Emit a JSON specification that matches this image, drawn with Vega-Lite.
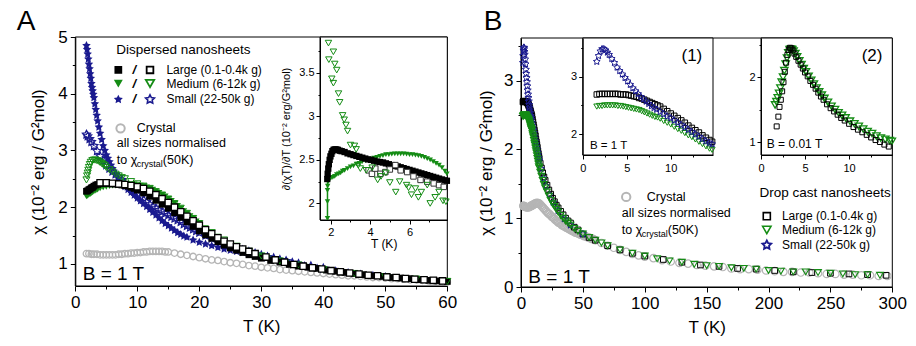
{
"$schema":"https://vega.github.io/schema/vega-lite/v6.json",
"width":916,"height":346,"autosize":{"type":"none"},"padding":0,"background":"white",
"config":{"view":{"stroke":null},"axis":{"grid":false,"domainColor":"black","tickColor":"black","labelColor":"black","titleColor":"black","labelFont":"Liberation Sans","titleFont":"Liberation Sans","titleFontWeight":"normal","labelOverlap":false,"labelFlush":false,"domainWidth":1,"tickWidth":1},"text":{"font":"Liberation Sans","color":"black"}},
"datasets":{
"AL":[{"x":1.8,"y":2.28},{"x":2,"y":2.29},{"x":2.2,"y":2.31},{"x":2.4,"y":2.32},{"x":2.6,"y":2.34},{"x":2.8,"y":2.35},{"x":3,"y":2.37},{"x":3.3,"y":2.39},{"x":3.6,"y":2.4},{"x":4,"y":2.42},{"x":4.5,"y":2.42},{"x":5,"y":2.42},{"x":5.5,"y":2.42},{"x":6,"y":2.41},{"x":6.5,"y":2.41},{"x":7,"y":2.4},{"x":7.5,"y":2.39},{"x":8,"y":2.38},{"x":8.5,"y":2.37},{"x":9,"y":2.35},{"x":9.5,"y":2.33},{"x":10,"y":2.3},{"x":11,"y":2.25},{"x":12,"y":2.19},{"x":13,"y":2.12},{"x":14,"y":2.05},{"x":15,"y":1.98},{"x":16,"y":1.9},{"x":17,"y":1.82},{"x":18,"y":1.74},{"x":19,"y":1.66},{"x":20,"y":1.58},{"x":21,"y":1.51},{"x":22,"y":1.45},{"x":23,"y":1.39},{"x":24,"y":1.33},{"x":25,"y":1.28},{"x":26,"y":1.24},{"x":27,"y":1.2},{"x":28,"y":1.16},{"x":29,"y":1.13},{"x":30,"y":1.1},{"x":31.5,"y":1.06},{"x":33,"y":1.03},{"x":34.5,"y":0.99},{"x":36,"y":0.96},{"x":37.5,"y":0.94},{"x":39,"y":0.92},{"x":40.5,"y":0.89},{"x":42,"y":0.87},{"x":43.5,"y":0.85},{"x":45,"y":0.83},{"x":46.5,"y":0.81},{"x":48,"y":0.79},{"x":49.5,"y":0.78},{"x":51,"y":0.76},{"x":52.5,"y":0.75},{"x":54,"y":0.74},{"x":55.5,"y":0.72},{"x":57,"y":0.71},{"x":58.5,"y":0.7},{"x":60,"y":0.69}],
"ALo":[{"x":4,"y":2.43},{"x":5,"y":2.43},{"x":6,"y":2.42},{"x":7,"y":2.41},{"x":8,"y":2.4},{"x":9,"y":2.38},{"x":10,"y":2.36},{"x":11,"y":2.33},{"x":12,"y":2.28},{"x":13,"y":2.22},{"x":14,"y":2.15},{"x":15,"y":2.08},{"x":16,"y":2.0},{"x":17,"y":1.92},{"x":18,"y":1.84},{"x":19,"y":1.76},{"x":20,"y":1.68},{"x":21,"y":1.6},{"x":22,"y":1.53},{"x":23,"y":1.46},{"x":24,"y":1.4},{"x":25,"y":1.35},{"x":26,"y":1.3},{"x":27,"y":1.26},{"x":28,"y":1.22},{"x":29,"y":1.18},{"x":30.75,"y":1.12},{"x":32.25,"y":1.07},{"x":33.75,"y":1.03},{"x":35.25,"y":0.99},{"x":36.75,"y":0.96},{"x":38.25,"y":0.93},{"x":39.75,"y":0.91},{"x":41.25,"y":0.88},{"x":42.75,"y":0.86},{"x":44.25,"y":0.84},{"x":45.75,"y":0.82},{"x":47.25,"y":0.8},{"x":48.75,"y":0.79},{"x":50.25,"y":0.77},{"x":51.75,"y":0.76},{"x":53.25,"y":0.74},{"x":54.75,"y":0.73},{"x":56.25,"y":0.72},{"x":57.75,"y":0.71},{"x":59.25,"y":0.7}],
"AMf":[{"x":1.8,"y":2.19},{"x":2,"y":2.2},{"x":2.2,"y":2.22},{"x":2.4,"y":2.23},{"x":2.6,"y":2.25},{"x":2.8,"y":2.26},{"x":3,"y":2.28},{"x":3.3,"y":2.29},{"x":3.6,"y":2.31},{"x":4,"y":2.33},{"x":4.5,"y":2.35},{"x":5,"y":2.36},{"x":5.5,"y":2.37},{"x":6,"y":2.38},{"x":6.5,"y":2.38},{"x":7,"y":2.39},{"x":7.5,"y":2.39},{"x":8,"y":2.4},{"x":8.5,"y":2.4},{"x":9,"y":2.4},{"x":9.5,"y":2.4},{"x":10,"y":2.39},{"x":10.5,"y":2.38},{"x":11,"y":2.37},{"x":11.5,"y":2.35},{"x":12,"y":2.33},{"x":12.5,"y":2.31},{"x":13,"y":2.28},{"x":13.5,"y":2.25},{"x":14,"y":2.22},{"x":14.5,"y":2.19},{"x":15,"y":2.15},{"x":15.5,"y":2.11},{"x":16,"y":2.07},{"x":16.5,"y":2.02},{"x":17,"y":1.98},{"x":17.5,"y":1.93},{"x":18,"y":1.89},{"x":18.5,"y":1.84},{"x":19,"y":1.8},{"x":19.5,"y":1.75},{"x":20,"y":1.71},{"x":21,"y":1.63},{"x":22,"y":1.55},{"x":23,"y":1.48},{"x":24,"y":1.41},{"x":25,"y":1.35},{"x":26,"y":1.3},{"x":27,"y":1.25},{"x":28,"y":1.21},{"x":29,"y":1.17},{"x":30,"y":1.13},{"x":31,"y":1.1},{"x":32,"y":1.07},{"x":33,"y":1.05},{"x":34,"y":1.02},{"x":35,"y":1.0},{"x":36,"y":0.97},{"x":37,"y":0.95},{"x":38,"y":0.93},{"x":39,"y":0.92},{"x":40,"y":0.9},{"x":41,"y":0.88},{"x":42,"y":0.87},{"x":43,"y":0.85},{"x":44,"y":0.84},{"x":45,"y":0.83},{"x":46,"y":0.81},{"x":47,"y":0.8},{"x":48,"y":0.79},{"x":49,"y":0.78},{"x":50,"y":0.77},{"x":51,"y":0.76},{"x":52,"y":0.75},{"x":53,"y":0.74},{"x":54,"y":0.73},{"x":55,"y":0.73},{"x":56,"y":0.72},{"x":57,"y":0.71},{"x":58,"y":0.7},{"x":59,"y":0.7},{"x":60,"y":0.69}],
"AMo":[{"x":1.8,"y":2.48},{"x":1.9,"y":2.55},{"x":2,"y":2.6},{"x":2.1,"y":2.65},{"x":2.2,"y":2.7},{"x":2.35,"y":2.75},{"x":2.5,"y":2.79},{"x":2.75,"y":2.82},{"x":3,"y":2.83},{"x":3.25,"y":2.83},{"x":3.5,"y":2.82},{"x":3.75,"y":2.81},{"x":4,"y":2.79},{"x":4.25,"y":2.77},{"x":4.5,"y":2.75},{"x":4.75,"y":2.73},{"x":5,"y":2.7},{"x":5.5,"y":2.66},{"x":6,"y":2.62},{"x":6.5,"y":2.58},{"x":7,"y":2.55},{"x":7.5,"y":2.52},{"x":8,"y":2.5},{"x":9,"y":2.45},{"x":10,"y":2.41},{"x":11,"y":2.37},{"x":12,"y":2.33},{"x":13,"y":2.27},{"x":14,"y":2.21},{"x":15,"y":2.14},{"x":16,"y":2.06},{"x":17,"y":1.98},{"x":18,"y":1.89},{"x":19,"y":1.8},{"x":20,"y":1.71},{"x":22,"y":1.55},{"x":24,"y":1.42},{"x":26,"y":1.31},{"x":28,"y":1.22},{"x":30,"y":1.14},{"x":33,"y":1.05},{"x":36,"y":0.98},{"x":40,"y":0.9},{"x":45,"y":0.83},{"x":50,"y":0.77},{"x":55,"y":0.73},{"x":60,"y":0.69}],
"ASf":[{"x":1.8,"y":4.85},{"x":1.9,"y":4.78},{"x":2,"y":4.7},{"x":2.1,"y":4.61},{"x":2.2,"y":4.52},{"x":2.3,"y":4.44},{"x":2.4,"y":4.35},{"x":2.5,"y":4.27},{"x":2.6,"y":4.18},{"x":2.7,"y":4.11},{"x":2.8,"y":4.05},{"x":2.9,"y":3.99},{"x":3,"y":3.93},{"x":3.15,"y":3.82},{"x":3.3,"y":3.72},{"x":3.45,"y":3.62},{"x":3.6,"y":3.52},{"x":3.8,"y":3.41},{"x":4,"y":3.3},{"x":4.25,"y":3.19},{"x":4.5,"y":3.08},{"x":4.75,"y":3.0},{"x":5,"y":2.92},{"x":5.25,"y":2.86},{"x":5.5,"y":2.8},{"x":5.75,"y":2.74},{"x":6,"y":2.68},{"x":6.5,"y":2.58},{"x":7,"y":2.5},{"x":7.5,"y":2.42},{"x":8,"y":2.36},{"x":8.5,"y":2.31},{"x":9,"y":2.26},{"x":9.5,"y":2.21},{"x":10,"y":2.16},{"x":10.5,"y":2.11},{"x":11,"y":2.06},{"x":11.5,"y":2.01},{"x":12,"y":1.96},{"x":12.5,"y":1.91},{"x":13,"y":1.86},{"x":13.5,"y":1.81},{"x":14,"y":1.76},{"x":14.5,"y":1.71},{"x":15,"y":1.67},{"x":15.5,"y":1.63},{"x":16,"y":1.59},{"x":16.5,"y":1.55},{"x":17,"y":1.52},{"x":17.5,"y":1.49},{"x":18,"y":1.47},{"x":19,"y":1.42},{"x":20,"y":1.38},{"x":21,"y":1.35},{"x":22,"y":1.32},{"x":23,"y":1.29},{"x":24,"y":1.26},{"x":25,"y":1.24},{"x":26,"y":1.22},{"x":27,"y":1.2},{"x":28,"y":1.18},{"x":29,"y":1.16},{"x":30,"y":1.13},{"x":31,"y":1.11},{"x":32,"y":1.08},{"x":33,"y":1.06},{"x":34,"y":1.03},{"x":35,"y":1.01},{"x":36,"y":0.99},{"x":37,"y":0.97},{"x":38,"y":0.95},{"x":39,"y":0.93},{"x":40,"y":0.91},{"x":42,"y":0.88},{"x":44,"y":0.85},{"x":46,"y":0.82},{"x":48,"y":0.8},{"x":50,"y":0.78}],
"ASo":[{"x":1.8,"y":3.28},{"x":2,"y":3.25},{"x":2.3,"y":3.2},{"x":2.6,"y":3.15},{"x":3,"y":3.08},{"x":3.5,"y":2.99},{"x":4,"y":2.9},{"x":4.5,"y":2.82},{"x":5,"y":2.74},{"x":5.5,"y":2.68},{"x":6,"y":2.63},{"x":6.5,"y":2.58},{"x":7,"y":2.53},{"x":7.5,"y":2.48},{"x":8,"y":2.42},{"x":8.5,"y":2.37},{"x":9,"y":2.32},{"x":9.5,"y":2.27},{"x":10,"y":2.22},{"x":10.5,"y":2.17},{"x":11,"y":2.13},{"x":11.5,"y":2.09},{"x":12,"y":2.05},{"x":12.5,"y":2.01},{"x":13,"y":1.98},{"x":13.5,"y":1.95},{"x":14,"y":1.92},{"x":14.5,"y":1.89},{"x":15,"y":1.86},{"x":15.5,"y":1.83},{"x":16,"y":1.8},{"x":16.5,"y":1.77},{"x":17,"y":1.74},{"x":17.5,"y":1.7},{"x":18,"y":1.67},{"x":18.5,"y":1.64},{"x":19,"y":1.61},{"x":19.5,"y":1.58},{"x":20,"y":1.55},{"x":21,"y":1.5},{"x":22,"y":1.45},{"x":23,"y":1.4},{"x":24,"y":1.35},{"x":25,"y":1.31},{"x":26,"y":1.27},{"x":27,"y":1.24},{"x":28,"y":1.21},{"x":29,"y":1.18},{"x":30,"y":1.15},{"x":31,"y":1.12},{"x":32,"y":1.1},{"x":33,"y":1.07},{"x":34,"y":1.05},{"x":35,"y":1.02},{"x":36,"y":1.0},{"x":38,"y":0.96},{"x":40,"y":0.92}],
"CR":[{"x":1.8,"y":1.18},{"x":2.2,"y":1.18},{"x":2.6,"y":1.17},{"x":3,"y":1.17},{"x":3.5,"y":1.17},{"x":4,"y":1.16},{"x":4.5,"y":1.16},{"x":5,"y":1.16},{"x":5.5,"y":1.16},{"x":6,"y":1.16},{"x":6.5,"y":1.16},{"x":7,"y":1.17},{"x":7.5,"y":1.17},{"x":8,"y":1.18},{"x":8.5,"y":1.18},{"x":9,"y":1.19},{"x":9.5,"y":1.19},{"x":10,"y":1.2},{"x":10.5,"y":1.2},{"x":11,"y":1.21},{"x":11.5,"y":1.21},{"x":12,"y":1.22},{"x":12.5,"y":1.22},{"x":13,"y":1.22},{"x":13.5,"y":1.22},{"x":14,"y":1.22},{"x":14.5,"y":1.21},{"x":15,"y":1.21},{"x":16,"y":1.19},{"x":17,"y":1.17},{"x":18,"y":1.15},{"x":19,"y":1.13},{"x":20,"y":1.11},{"x":21,"y":1.09},{"x":22,"y":1.07},{"x":23,"y":1.06},{"x":24,"y":1.04},{"x":25,"y":1.02},{"x":26,"y":1.01},{"x":27,"y":0.99},{"x":28,"y":0.97},{"x":29,"y":0.96},{"x":30,"y":0.94},{"x":31,"y":0.93},{"x":32,"y":0.92},{"x":33,"y":0.9},{"x":34,"y":0.89},{"x":35,"y":0.88},{"x":36,"y":0.87},{"x":37,"y":0.86},{"x":38,"y":0.85},{"x":39,"y":0.84},{"x":40,"y":0.83},{"x":41,"y":0.82},{"x":42,"y":0.81},{"x":43,"y":0.8},{"x":44,"y":0.79},{"x":45,"y":0.79},{"x":46,"y":0.78},{"x":47,"y":0.77},{"x":48,"y":0.76},{"x":49,"y":0.76},{"x":50,"y":0.75},{"x":51,"y":0.74},{"x":52,"y":0.74},{"x":53,"y":0.73},{"x":54,"y":0.72},{"x":55,"y":0.72},{"x":56,"y":0.71},{"x":57,"y":0.7},{"x":58,"y":0.7},{"x":59,"y":0.69},{"x":60,"y":0.68},{"x":65,"y":0.64},{"x":70,"y":0.6},{"x":75,"y":0.57},{"x":80,"y":0.54},{"x":85,"y":0.51},{"x":90,"y":0.48},{"x":95,"y":0.46},{"x":100,"y":0.44},{"x":107,"y":0.42},{"x":114,"y":0.39},{"x":121,"y":0.37},{"x":128,"y":0.35},{"x":135,"y":0.34},{"x":142,"y":0.32},{"x":149,"y":0.31},{"x":156,"y":0.3},{"x":163,"y":0.29},{"x":170,"y":0.27},{"x":177,"y":0.26},{"x":184,"y":0.26},{"x":191,"y":0.25},{"x":198,"y":0.24},{"x":205,"y":0.23},{"x":212,"y":0.22},{"x":219,"y":0.22},{"x":226,"y":0.21},{"x":233,"y":0.21},{"x":240,"y":0.2},{"x":247,"y":0.19},{"x":254,"y":0.19},{"x":261,"y":0.18},{"x":268,"y":0.18},{"x":275,"y":0.17},{"x":282,"y":0.17},{"x":289,"y":0.16},{"x":296,"y":0.16}],
"IAL":[{"x":1.82,"y":2.28},{"x":1.84,"y":2.34},{"x":1.87,"y":2.4},{"x":1.9,"y":2.45},{"x":1.94,"y":2.5},{"x":1.98,"y":2.54},{"x":2.03,"y":2.57},{"x":2.08,"y":2.6},{"x":2.14,"y":2.615},{"x":2.2,"y":2.62},{"x":2.28,"y":2.62},{"x":2.36,"y":2.615},{"x":2.45,"y":2.605},{"x":2.55,"y":2.6},{"x":2.7,"y":2.59},{"x":2.85,"y":2.575},{"x":3,"y":2.565},{"x":3.15,"y":2.555},{"x":3.3,"y":2.545},{"x":3.45,"y":2.535},{"x":3.6,"y":2.525},{"x":3.75,"y":2.515},{"x":3.9,"y":2.505},{"x":4.05,"y":2.5},{"x":4.2,"y":2.49},{"x":4.35,"y":2.48},{"x":4.5,"y":2.475},{"x":4.65,"y":2.47},{"x":4.8,"y":2.46},{"x":4.95,"y":2.45},{"x":5.1,"y":2.44},{"x":5.25,"y":2.43},{"x":5.4,"y":2.425},{"x":5.55,"y":2.415},{"x":5.7,"y":2.405},{"x":5.85,"y":2.395},{"x":6,"y":2.385},{"x":6.15,"y":2.375},{"x":6.3,"y":2.365},{"x":6.45,"y":2.355},{"x":6.6,"y":2.345},{"x":6.75,"y":2.335},{"x":6.9,"y":2.325},{"x":7.05,"y":2.315},{"x":7.2,"y":2.305},{"x":7.35,"y":2.295},{"x":7.5,"y":2.285},{"x":7.65,"y":2.275},{"x":7.8,"y":2.265},{"x":7.9,"y":2.26}],
"IALo":[{"x":3.92,"y":2.38},{"x":4.09,"y":2.34},{"x":4.26,"y":2.4},{"x":4.52,"y":2.34},{"x":4.77,"y":2.36},{"x":5.0,"y":2.39},{"x":5.28,"y":2.44},{"x":5.55,"y":2.38},{"x":5.88,"y":2.36},{"x":6.2,"y":2.31},{"x":6.56,"y":2.27},{"x":6.9,"y":2.25},{"x":7.23,"y":2.23},{"x":7.5,"y":2.21},{"x":7.74,"y":2.19}],
"IAMf":[{"x":1.83,"y":1.83},{"x":1.83,"y":2.02},{"x":1.83,"y":2.15},{"x":1.84,"y":2.2},{"x":1.87,"y":2.25},{"x":1.92,"y":2.28},{"x":2,"y":2.29},{"x":2.1,"y":2.3},{"x":2.2,"y":2.31},{"x":2.3,"y":2.33},{"x":2.4,"y":2.34},{"x":2.5,"y":2.35},{"x":2.6,"y":2.37},{"x":2.7,"y":2.38},{"x":2.85,"y":2.4},{"x":3,"y":2.42},{"x":3.15,"y":2.43},{"x":3.3,"y":2.45},{"x":3.45,"y":2.46},{"x":3.6,"y":2.48},{"x":3.75,"y":2.49},{"x":3.9,"y":2.5},{"x":4.05,"y":2.51},{"x":4.2,"y":2.52},{"x":4.35,"y":2.53},{"x":4.5,"y":2.54},{"x":4.65,"y":2.55},{"x":4.8,"y":2.56},{"x":4.95,"y":2.56},{"x":5.1,"y":2.565},{"x":5.25,"y":2.57},{"x":5.4,"y":2.57},{"x":5.55,"y":2.57},{"x":5.7,"y":2.57},{"x":5.85,"y":2.565},{"x":6,"y":2.56},{"x":6.15,"y":2.56},{"x":6.3,"y":2.555},{"x":6.45,"y":2.55},{"x":6.6,"y":2.54},{"x":6.75,"y":2.53},{"x":6.9,"y":2.515},{"x":7.05,"y":2.5},{"x":7.2,"y":2.48},{"x":7.35,"y":2.46},{"x":7.5,"y":2.44},{"x":7.65,"y":2.41},{"x":7.8,"y":2.37},{"x":7.9,"y":2.34}],
"IAMo":[{"x":1.88,"y":3.84},{"x":2.13,"y":3.74},{"x":1.9,"y":3.65},{"x":2.2,"y":3.6},{"x":2.3,"y":3.53},{"x":2.05,"y":3.43},{"x":2.13,"y":3.38},{"x":2.39,"y":3.26},{"x":2.45,"y":3.16},{"x":2.6,"y":3.01},{"x":2.68,"y":2.96},{"x":2.77,"y":2.9},{"x":2.85,"y":2.83},{"x":3.0,"y":2.67},{"x":3.2,"y":2.66},{"x":3.29,"y":2.62},{"x":3.4,"y":2.44},{"x":3.5,"y":2.4},{"x":3.8,"y":2.38},{"x":4.1,"y":2.41},{"x":4.38,"y":2.27},{"x":4.55,"y":2.31},{"x":4.8,"y":2.35},{"x":5.0,"y":2.24},{"x":5.3,"y":2.13},{"x":5.5,"y":2.25},{"x":5.85,"y":2.21},{"x":5.95,"y":2.18},{"x":6.1,"y":2.1},{"x":6.3,"y":2.17},{"x":6.45,"y":2.07},{"x":6.6,"y":2.13},{"x":6.9,"y":2.21},{"x":7.05,"y":2.0},{"x":7.3,"y":2.07},{"x":7.5,"y":2.13},{"x":7.7,"y":2.03},{"x":7.85,"y":2.02}],
"BL":[{"x":1.6,"y":2.69},{"x":1.9,"y":2.7},{"x":2.2,"y":2.7},{"x":2.5,"y":2.7},{"x":2.8,"y":2.7},{"x":3.1,"y":2.7},{"x":3.4,"y":2.7},{"x":3.7,"y":2.7},{"x":4,"y":2.7},{"x":4.3,"y":2.69},{"x":4.6,"y":2.69},{"x":4.9,"y":2.69},{"x":5.2,"y":2.68},{"x":5.5,"y":2.67},{"x":5.8,"y":2.66},{"x":6.1,"y":2.65},{"x":6.4,"y":2.63},{"x":6.7,"y":2.62},{"x":7,"y":2.6},{"x":7.3,"y":2.58},{"x":7.6,"y":2.56},{"x":7.9,"y":2.54},{"x":8.2,"y":2.52},{"x":8.5,"y":2.5},{"x":8.8,"y":2.48},{"x":9.2,"y":2.44},{"x":9.6,"y":2.4},{"x":10,"y":2.36},{"x":10.4,"y":2.32},{"x":10.8,"y":2.28},{"x":11.2,"y":2.24},{"x":11.6,"y":2.2},{"x":12,"y":2.15},{"x":12.4,"y":2.11},{"x":12.8,"y":2.07},{"x":13.2,"y":2.03},{"x":13.6,"y":1.98},{"x":14,"y":1.94},{"x":14.4,"y":1.9},{"x":14.7,"y":1.87},{"x":15.5,"y":1.8},{"x":16.5,"y":1.73},{"x":17.5,"y":1.66},{"x":18.5,"y":1.6},{"x":19.5,"y":1.55},{"x":21,"y":1.48},{"x":22.5,"y":1.41},{"x":24,"y":1.35},{"x":25.5,"y":1.29},{"x":27,"y":1.24},{"x":28.5,"y":1.19},{"x":30,"y":1.15},{"x":32,"y":1.1},{"x":34,"y":1.05},{"x":36,"y":1.0},{"x":38,"y":0.96},{"x":40,"y":0.93},{"x":43,"y":0.87},{"x":46,"y":0.83},{"x":50,"y":0.77},{"x":55,"y":0.72},{"x":60,"y":0.68},{"x":70,"y":0.6},{"x":80,"y":0.54},{"x":90,"y":0.49},{"x":100,"y":0.45},{"x":115,"y":0.4},{"x":130,"y":0.36},{"x":145,"y":0.32},{"x":160,"y":0.3},{"x":175,"y":0.27},{"x":190,"y":0.26},{"x":205,"y":0.24},{"x":220,"y":0.22},{"x":235,"y":0.21},{"x":250,"y":0.2},{"x":265,"y":0.19},{"x":280,"y":0.18},{"x":295,"y":0.17}],
"BM":[{"x":1.6,"y":2.48},{"x":1.9,"y":2.49},{"x":2.2,"y":2.49},{"x":2.5,"y":2.5},{"x":2.8,"y":2.5},{"x":3.1,"y":2.5},{"x":3.4,"y":2.5},{"x":3.7,"y":2.5},{"x":4,"y":2.49},{"x":4.3,"y":2.49},{"x":4.6,"y":2.48},{"x":4.9,"y":2.47},{"x":5.2,"y":2.46},{"x":5.5,"y":2.45},{"x":5.8,"y":2.44},{"x":6.1,"y":2.43},{"x":6.4,"y":2.42},{"x":6.7,"y":2.4},{"x":7,"y":2.38},{"x":7.3,"y":2.36},{"x":7.6,"y":2.34},{"x":7.9,"y":2.32},{"x":8.2,"y":2.3},{"x":8.5,"y":2.29},{"x":8.8,"y":2.27},{"x":9.2,"y":2.23},{"x":9.6,"y":2.2},{"x":10,"y":2.17},{"x":10.4,"y":2.13},{"x":10.8,"y":2.09},{"x":11.2,"y":2.06},{"x":11.6,"y":2.02},{"x":12,"y":1.98},{"x":12.4,"y":1.95},{"x":12.8,"y":1.91},{"x":13.2,"y":1.87},{"x":13.6,"y":1.83},{"x":14,"y":1.79},{"x":14.4,"y":1.75},{"x":14.7,"y":1.73},{"x":15.5,"y":1.67},{"x":16.5,"y":1.61},{"x":17.5,"y":1.55},{"x":18.5,"y":1.49},{"x":19.5,"y":1.44},{"x":21,"y":1.38},{"x":22.5,"y":1.32},{"x":24,"y":1.26},{"x":25.5,"y":1.21},{"x":27,"y":1.17},{"x":28.5,"y":1.13},{"x":30,"y":1.09},{"x":32,"y":1.04},{"x":34,"y":1.0},{"x":36,"y":0.96},{"x":38,"y":0.93},{"x":40,"y":0.9},{"x":43,"y":0.85},{"x":46,"y":0.81},{"x":50,"y":0.77},{"x":55,"y":0.72},{"x":60,"y":0.68},{"x":65,"y":0.64},{"x":70,"y":0.6},{"x":80,"y":0.54},{"x":90,"y":0.49},{"x":100,"y":0.45},{"x":110,"y":0.41},{"x":120,"y":0.38},{"x":130,"y":0.36},{"x":140,"y":0.33},{"x":150,"y":0.31},{"x":160,"y":0.3},{"x":170,"y":0.28},{"x":180,"y":0.27},{"x":190,"y":0.26},{"x":200,"y":0.24},{"x":210,"y":0.23},{"x":220,"y":0.22},{"x":230,"y":0.22},{"x":240,"y":0.21},{"x":250,"y":0.2},{"x":260,"y":0.19},{"x":270,"y":0.18},{"x":280,"y":0.18},{"x":290,"y":0.17}],
"BS":[{"x":1.6,"y":3.26},{"x":1.8,"y":3.36},{"x":2,"y":3.44},{"x":2.2,"y":3.48},{"x":2.4,"y":3.48},{"x":2.6,"y":3.46},{"x":2.8,"y":3.42},{"x":3,"y":3.38},{"x":3.3,"y":3.31},{"x":3.6,"y":3.24},{"x":3.9,"y":3.16},{"x":4.2,"y":3.1},{"x":4.5,"y":3.04},{"x":4.8,"y":2.98},{"x":5.1,"y":2.92},{"x":5.4,"y":2.86},{"x":5.7,"y":2.8},{"x":6,"y":2.75},{"x":6.3,"y":2.7},{"x":6.6,"y":2.65},{"x":6.9,"y":2.61},{"x":7.2,"y":2.57},{"x":7.5,"y":2.53},{"x":7.8,"y":2.49},{"x":8.1,"y":2.46},{"x":8.4,"y":2.43},{"x":8.8,"y":2.39},{"x":9.2,"y":2.35},{"x":9.6,"y":2.31},{"x":10,"y":2.28},{"x":10.4,"y":2.24},{"x":10.8,"y":2.2},{"x":11.2,"y":2.16},{"x":11.6,"y":2.12},{"x":12,"y":2.08},{"x":12.4,"y":2.04},{"x":12.8,"y":2.0},{"x":13.2,"y":1.96},{"x":13.6,"y":1.92},{"x":14,"y":1.88},{"x":14.4,"y":1.85},{"x":14.7,"y":1.83},{"x":16,"y":1.72},{"x":18,"y":1.58},{"x":20,"y":1.47},{"x":23,"y":1.34},{"x":26,"y":1.23},{"x":30,"y":1.11},{"x":35,"y":0.99},{"x":40,"y":0.9},{"x":50,"y":0.77}],
"B2L":[{"x":1.78,"y":1.24},{"x":1.97,"y":1.39},{"x":2.1,"y":1.54},{"x":2.25,"y":1.65},{"x":2.4,"y":1.78},{"x":2.55,"y":1.92},{"x":2.7,"y":2.08},{"x":2.85,"y":2.22},{"x":3,"y":2.34},{"x":3.15,"y":2.42},{"x":3.3,"y":2.45},{"x":3.45,"y":2.44},{"x":3.6,"y":2.41},{"x":3.8,"y":2.36},{"x":4,"y":2.31},{"x":4.25,"y":2.25},{"x":4.5,"y":2.19},{"x":4.75,"y":2.13},{"x":5,"y":2.07},{"x":5.3,"y":2.01},{"x":5.6,"y":1.94},{"x":5.9,"y":1.88},{"x":6.2,"y":1.82},{"x":6.5,"y":1.76},{"x":6.8,"y":1.7},{"x":7.1,"y":1.65},{"x":7.5,"y":1.58},{"x":7.9,"y":1.52},{"x":8.3,"y":1.47},{"x":8.7,"y":1.42},{"x":9.1,"y":1.37},{"x":9.5,"y":1.33},{"x":10,"y":1.28},{"x":10.5,"y":1.23},{"x":11,"y":1.19},{"x":11.5,"y":1.15},{"x":12,"y":1.11},{"x":12.5,"y":1.07},{"x":13,"y":1.03},{"x":13.5,"y":1.0},{"x":14,"y":0.96},{"x":14.5,"y":0.93}],
"B2M":[{"x":1.6,"y":1.57},{"x":1.75,"y":1.62},{"x":1.9,"y":1.68},{"x":2.05,"y":1.75},{"x":2.2,"y":1.83},{"x":2.35,"y":1.92},{"x":2.5,"y":2.0},{"x":2.65,"y":2.1},{"x":2.8,"y":2.2},{"x":2.95,"y":2.29},{"x":3.1,"y":2.37},{"x":3.25,"y":2.42},{"x":3.4,"y":2.43},{"x":3.55,"y":2.42},{"x":3.7,"y":2.4},{"x":3.9,"y":2.36},{"x":4.1,"y":2.31},{"x":4.35,"y":2.25},{"x":4.6,"y":2.19},{"x":4.85,"y":2.13},{"x":5.1,"y":2.08},{"x":5.4,"y":2.01},{"x":5.7,"y":1.95},{"x":6,"y":1.89},{"x":6.3,"y":1.83},{"x":6.6,"y":1.77},{"x":6.9,"y":1.72},{"x":7.2,"y":1.67},{"x":7.6,"y":1.61},{"x":8,"y":1.55},{"x":8.4,"y":1.5},{"x":8.8,"y":1.45},{"x":9.2,"y":1.41},{"x":9.6,"y":1.37},{"x":10.1,"y":1.32},{"x":10.6,"y":1.28},{"x":11.1,"y":1.24},{"x":11.6,"y":1.2},{"x":12.1,"y":1.16},{"x":12.6,"y":1.13},{"x":13.1,"y":1.09},{"x":13.6,"y":1.06},{"x":14.1,"y":1.04},{"x":14.6,"y":1.02},{"x":14.85,"y":1.01}]
},
"layer":[
{
"encoding":{
"x":{"field":"x","type":"quantitative","scale":{"domain":[0,60],"range":[75.3,447.3],"nice":false,"zero":false},"axis":{"orient":"bottom","offset":-60,"values":[0,5,10,15,20,25,30,35,40,45,50,55,60],"format":"~r","labelExpr":"datum.value % 10 === 0 ? datum.label : ''","tickSize":{"condition":{"test":"datum.value % 10 !== 0","value":3},"value":5},"labelFontSize":17,"labelPadding":3,"title":"T (K)","titleFontSize":17,"titlePadding":8}},
"y":{"field":"y","type":"quantitative","scale":{"domain":[0.61,5],"range":[286,37],"nice":false,"zero":false},"axis":{"orient":"left","offset":-75.3,"values":[1,1.5,2,2.5,3,3.5,4,4.5,5],"format":"~r","labelExpr":"datum.value % 1 === 0 ? datum.label : ''","tickSize":{"condition":{"test":"datum.value % 1 !== 0","value":3},"value":5},"labelFontSize":17,"labelPadding":3,"title":"χ (10⁻² erg / G²mol)","titleFontSize":17,"titlePadding":10}}
},
"layer":[
{"data":{"values":[{"x":0,"x2":60,"y":0.61,"y2":5}]},"mark":{"type":"rect","filled":false,"color":"black","strokeWidth":1},"encoding":{"x2":{"field":"x2"},"y2":{"field":"y2"}}},
{"data":{"name":"CR"},"transform":[{"filter":"datum.x <= 60"}],"mark":{"type":"point","shape":"circle","filled":false,"color":"#b5b5b5","size":42,"strokeWidth":1.3,"opacity":1}},
{"data":{"name":"ASo"},"mark":{"type":"point","shape":"M0,-1L0.294,-0.405L0.951,-0.309L0.476,0.155L0.588,0.809L0,0.5L-0.588,0.809L-0.476,0.155L-0.951,-0.309L-0.294,-0.405Z","filled":false,"color":"#1a1a8f","size":72,"strokeWidth":1.2,"opacity":1}},
{"data":{"name":"ASf"},"mark":{"type":"point","shape":"M0,-1L0.294,-0.405L0.951,-0.309L0.476,0.155L0.588,0.809L0,0.5L-0.588,0.809L-0.476,0.155L-0.951,-0.309L-0.294,-0.405Z","filled":true,"color":"#1a1a8f","size":80,"opacity":1}},
{"data":{"name":"AMf"},"mark":{"type":"point","shape":"triangle-down","filled":true,"color":"#148c14","size":45,"opacity":1}},
{"data":{"name":"AL"},"mark":{"type":"point","shape":"square","filled":true,"color":"black","size":45,"opacity":1}},
{"data":{"name":"AMo"},"mark":{"type":"point","shape":"triangle-down","filled":false,"color":"#148c14","size":50,"strokeWidth":1,"opacity":1}},
{"data":{"name":"ALo"},"mark":{"type":"point","shape":"square","filled":true,"fill":"white","stroke":"black","strokeWidth":1.3,"size":40,"opacity":1}},
{"data":{"values":[{"x":6.94,"y":4.42}]},"mark":{"type":"point","shape":"square","filled":true,"color":"black","size":60,"opacity":1}},
{"data":{"values":[{"x":12.05,"y":4.42}]},"mark":{"type":"point","shape":"square","filled":true,"fill":"white","stroke":"black","strokeWidth":1.8,"size":45,"opacity":1}},
{"data":{"values":[{"x":6.94,"y":4.18}]},"mark":{"type":"point","shape":"triangle-down","filled":true,"color":"#148c14","size":80,"opacity":1}},
{"data":{"values":[{"x":12.05,"y":4.18}]},"mark":{"type":"point","shape":"triangle-down","filled":false,"color":"#148c14","size":70,"strokeWidth":1.8,"opacity":1}},
{"data":{"values":[{"x":6.94,"y":3.9}]},"mark":{"type":"point","shape":"M0,-1L0.294,-0.405L0.951,-0.309L0.476,0.155L0.588,0.809L0,0.5L-0.588,0.809L-0.476,0.155L-0.951,-0.309L-0.294,-0.405Z","filled":true,"color":"#1a1a8f","size":90,"opacity":1}},
{"data":{"values":[{"x":12.05,"y":3.9}]},"mark":{"type":"point","shape":"M0,-1L0.294,-0.405L0.951,-0.309L0.476,0.155L0.588,0.809L0,0.5L-0.588,0.809L-0.476,0.155L-0.951,-0.309L-0.294,-0.405Z","filled":false,"color":"#1a1a8f","size":85,"strokeWidth":1.6,"opacity":1}},
{"data":{"values":[{"x":7.3,"y":3.39}]},"mark":{"type":"point","shape":"circle","filled":false,"color":"#b5b5b5","size":70,"strokeWidth":2,"opacity":1}},
{"data":{"values":[{"x":9.5,"y":4.42,"t":"/"},{"x":9.5,"y":4.18,"t":"/"},{"x":9.5,"y":3.9,"t":"/"}]},"mark":{"type":"text","align":"center","baseline":"middle","fontSize":13,"fontWeight":"bold","fontStyle":"italic"},"encoding":{"text":{"field":"t"}}},
{"data":{"values":[{"x":6.6,"y":4.77,"t":"Dispersed nanosheets"}]},"mark":{"type":"text","align":"left","baseline":"middle","fontSize":13.5},"encoding":{"text":{"field":"t"}}},
{"data":{"values":[{"x":14.7,"y":4.42,"t":"Large (0.1-0.4k g)"},{"x":14.7,"y":4.18,"t":"Medium (6-12k g)"},{"x":14.7,"y":3.9,"t":"Small (22-50k g)"}]},"mark":{"type":"text","align":"left","baseline":"middle","fontSize":12},"encoding":{"text":{"field":"t"}}},
{"data":{"values":[{"x":9.9,"y":3.39,"t":"Crystal"},{"x":6.7,"y":3.13,"t":"all sizes normalised"},{"x":6.7,"y":2.84,"t":"to χ"}]},"mark":{"type":"text","align":"left","baseline":"middle","fontSize":12.5},"encoding":{"text":{"field":"t"}}},
{"data":{"values":[{"x":6.7,"y":2.84,"t":"crystal"}]},"mark":{"type":"text","align":"left","baseline":"middle","fontSize":9,"dx":20,"dy":4},"encoding":{"text":{"field":"t"}}},
{"data":{"values":[{"x":6.7,"y":2.84,"t":"(50K)"}]},"mark":{"type":"text","align":"left","baseline":"middle","fontSize":12.5,"dx":46},"encoding":{"text":{"field":"t"}}},
{"data":{"values":[{"x":1.2,"y":0.82,"t":"B = 1 T"}]},"mark":{"type":"text","align":"left","baseline":"middle","fontSize":19},"encoding":{"text":{"field":"t"}}},
{"data":{"values":[{"x":-7.95,"y":5.26,"t":"A"}]},"mark":{"type":"text","align":"center","baseline":"middle","fontSize":28},"encoding":{"text":{"field":"t"}}}
]
},
{
"encoding":{
"x":{"field":"x","type":"quantitative","scale":{"domain":[1.45,7.92],"range":[320,447.3],"nice":false,"zero":false},"axis":{"orient":"bottom","offset":-126,"zindex":1,"values":[2,3,4,5,6,7],"format":"~r","labelExpr":"datum.value % 2 === 0 ? datum.label : ''","tickSize":{"condition":{"test":"datum.value % 2 !== 0","value":2},"value":4},"labelFontSize":11,"labelPadding":2,"title":"T (K)","titleFontSize":12,"titlePadding":1}},
"y":{"field":"y","type":"quantitative","scale":{"domain":[1.81,3.91],"range":[220,37],"nice":false,"zero":false},"axis":{"orient":"left","offset":-320,"zindex":1,"values":[2,2.25,2.5,2.75,3,3.25,3.5,3.75],"format":"~r","labelExpr":"(datum.value*2) % 1 === 0 ? datum.label : ''","tickSize":{"condition":{"test":"(datum.value*2) % 1 !== 0","value":2},"value":4},"labelFontSize":11,"labelPadding":2,"title":"∂(χT)/∂T (10⁻² erg/G²mol)","titleFontSize":11,"titlePadding":7}}
},
"layer":[
{"data":{"values":[{"x":1.45,"x2":7.92,"y":1.81,"y2":3.91}]},"mark":{"type":"rect","fill":"white","stroke":"black","strokeWidth":1},"encoding":{"x2":{"field":"x2"},"y2":{"field":"y2"}}},
{"data":{"values":[{"x":1.83,"y":1.81,"y2":2.28}]},"mark":{"type":"rule","color":"#148c14","strokeWidth":1.5},"encoding":{"y2":{"field":"y2"}}},
{"data":{"name":"IAMf"},"mark":{"type":"point","shape":"triangle-down","filled":true,"color":"#148c14","size":30,"opacity":1}},
{"data":{"name":"IAL"},"mark":{"type":"point","shape":"square","filled":true,"color":"black","size":40,"opacity":1}},
{"data":{"name":"IALo"},"mark":{"type":"point","shape":"square","filled":true,"fill":"white","stroke":"#333","strokeWidth":1,"size":30,"opacity":1}},
{"data":{"name":"IAMo"},"mark":{"type":"point","shape":"triangle-down","filled":false,"color":"#148c14","size":42,"strokeWidth":1,"opacity":1}}
]
},
{
"encoding":{
"x":{"field":"x","type":"quantitative","scale":{"domain":[0,300],"range":[521,892.3],"nice":false,"zero":false},"axis":{"orient":"bottom","offset":-59,"values":[0,25,50,75,100,125,150,175,200,225,250,275,300],"format":"d","labelExpr":"datum.value % 50 === 0 ? datum.label : ''","tickSize":{"condition":{"test":"datum.value % 50 !== 0","value":3},"value":5},"labelFontSize":17,"labelPadding":3,"title":"T (K)","titleFontSize":17,"titlePadding":8}},
"y":{"field":"y","type":"quantitative","scale":{"domain":[0,3.62],"range":[287,38],"nice":false,"zero":false},"axis":{"orient":"left","offset":-521,"values":[0,0.5,1,1.5,2,2.5,3,3.5],"format":"~r","labelExpr":"datum.value % 1 === 0 ? datum.label : ''","tickSize":{"condition":{"test":"datum.value % 1 !== 0","value":3},"value":5},"labelFontSize":17,"labelPadding":3,"title":"χ (10⁻² erg / G²mol)","titleFontSize":17,"titlePadding":8}}
},
"layer":[
{"data":{"values":[{"x":0,"x2":300,"y":0,"y2":3.62}]},"mark":{"type":"rect","filled":false,"color":"black","strokeWidth":1},"encoding":{"x2":{"field":"x2"},"y2":{"field":"y2"}}},
{"data":{"name":"CR"},"mark":{"type":"point","shape":"circle","filled":false,"color":"#b5b5b5","size":55,"strokeWidth":1.2,"opacity":1}},
{"data":{"name":"BL"},"mark":{"type":"point","shape":"square","filled":false,"color":"black","size":32,"strokeWidth":1,"opacity":1}},
{"data":{"name":"BS"},"mark":{"type":"point","shape":"M0,-1L0.294,-0.405L0.951,-0.309L0.476,0.155L0.588,0.809L0,0.5L-0.588,0.809L-0.476,0.155L-0.951,-0.309L-0.294,-0.405Z","filled":false,"color":"#1a1a8f","size":55,"strokeWidth":1,"opacity":1}},
{"data":{"name":"BM"},"mark":{"type":"point","shape":"triangle-down","filled":false,"color":"#148c14","size":45,"strokeWidth":1.1,"opacity":1}},
{"data":{"values":[{"x":198.6,"y":1.03}]},"mark":{"type":"point","shape":"square","filled":false,"color":"black","size":50,"strokeWidth":1.6,"opacity":1}},
{"data":{"values":[{"x":198.6,"y":0.83}]},"mark":{"type":"point","shape":"triangle-down","filled":false,"color":"#148c14","size":70,"strokeWidth":1.6,"opacity":1}},
{"data":{"values":[{"x":198.6,"y":0.61}]},"mark":{"type":"point","shape":"M0,-1L0.294,-0.405L0.951,-0.309L0.476,0.155L0.588,0.809L0,0.5L-0.588,0.809L-0.476,0.155L-0.951,-0.309L-0.294,-0.405Z","filled":false,"color":"#1a1a8f","size":85,"strokeWidth":1.8,"opacity":1}},
{"data":{"values":[{"x":85,"y":1.31}]},"mark":{"type":"point","shape":"circle","filled":false,"color":"#b5b5b5","size":70,"strokeWidth":2,"opacity":1}},
{"data":{"values":[{"x":192.7,"y":1.36,"t":"Drop cast nanosheets"}]},"mark":{"type":"text","align":"left","baseline":"middle","fontSize":13.5},"encoding":{"text":{"field":"t"}}},
{"data":{"values":[{"x":210.8,"y":1.03,"t":"Large (0.1-0.4k g)"},{"x":210.8,"y":0.83,"t":"Medium (6-12k g)"},{"x":210.8,"y":0.61,"t":"Small (22-50k g)"}]},"mark":{"type":"text","align":"left","baseline":"middle","fontSize":12},"encoding":{"text":{"field":"t"}}},
{"data":{"values":[{"x":101.6,"y":1.31,"t":"Crystal"},{"x":81.4,"y":1.08,"t":"all sizes normalised"},{"x":81.4,"y":0.83,"t":"to χ"}]},"mark":{"type":"text","align":"left","baseline":"middle","fontSize":12.5},"encoding":{"text":{"field":"t"}}},
{"data":{"values":[{"x":81.4,"y":0.83,"t":"crystal"}]},"mark":{"type":"text","align":"left","baseline":"middle","fontSize":9,"dx":20,"dy":4},"encoding":{"text":{"field":"t"}}},
{"data":{"values":[{"x":81.4,"y":0.83,"t":"(50K)"}]},"mark":{"type":"text","align":"left","baseline":"middle","fontSize":12.5,"dx":46},"encoding":{"text":{"field":"t"}}},
{"data":{"values":[{"x":5.9,"y":0.15,"t":"B = 1 T"}]},"mark":{"type":"text","align":"left","baseline":"middle","fontSize":19},"encoding":{"text":{"field":"t"}}},
{"data":{"values":[{"x":-22.6,"y":3.85,"t":"B"}]},"mark":{"type":"text","align":"center","baseline":"middle","fontSize":28},"encoding":{"text":{"field":"t"}}}
]
},
{
"encoding":{
"x":{"field":"x","type":"quantitative","scale":{"domain":[0,14.8],"range":[582.7,713],"nice":false,"zero":false},"axis":{"orient":"bottom","offset":-191,"zindex":1,"values":[0,2.5,5,7.5,10,12.5],"format":"~r","labelExpr":"datum.value % 5 === 0 ? datum.label : ''","tickSize":{"condition":{"test":"datum.value % 5 !== 0","value":2},"value":4},"labelFontSize":11,"labelPadding":3,"title":null}},
"y":{"field":"y","type":"quantitative","scale":{"domain":[1.64,3.67],"range":[155,38],"nice":false,"zero":false},"axis":{"orient":"left","offset":-582.7,"zindex":1,"values":[2,2.5,3,3.5],"format":"~r","labelExpr":"datum.value % 1 === 0 ? datum.label : ''","tickSize":{"condition":{"test":"datum.value % 1 !== 0","value":2},"value":4},"labelFontSize":11,"labelPadding":2,"title":null}}
},
"layer":[
{"data":{"values":[{"x":0,"x2":14.8,"y":1.64,"y2":3.67}]},"mark":{"type":"rect","fill":"white","stroke":"black","strokeWidth":1},"encoding":{"x2":{"field":"x2"},"y2":{"field":"y2"}}},
{"data":{"name":"BM"},"transform":[{"filter":"datum.x <= 14.8"}],"mark":{"type":"point","shape":"triangle-down","filled":false,"color":"#148c14","size":36,"strokeWidth":1,"opacity":1}},
{"data":{"name":"BL"},"transform":[{"filter":"datum.x <= 14.8"}],"mark":{"type":"point","shape":"square","filled":false,"color":"black","size":30,"strokeWidth":1,"opacity":1}},
{"data":{"name":"BS"},"transform":[{"filter":"datum.x <= 14.8"}],"mark":{"type":"point","shape":"M0,-1L0.294,-0.405L0.951,-0.309L0.476,0.155L0.588,0.809L0,0.5L-0.588,0.809L-0.476,0.155L-0.951,-0.309L-0.294,-0.405Z","filled":false,"color":"#1a1a8f","size":50,"strokeWidth":1,"opacity":1}},
{"data":{"values":[{"x":12.4,"y":3.35,"t":"(1)"}]},"mark":{"type":"text","align":"center","baseline":"middle","fontSize":17},"encoding":{"text":{"field":"t"}}},
{"data":{"values":[{"x":0.83,"y":1.8,"t":"B = 1 T"}]},"mark":{"type":"text","align":"left","baseline":"middle","fontSize":11.5},"encoding":{"text":{"field":"t"}}}
]
},
{
"encoding":{
"x":{"field":"x","type":"quantitative","scale":{"domain":[0,14.9],"range":[761,892.3],"nice":false,"zero":false},"axis":{"orient":"bottom","offset":-191,"zindex":1,"values":[0,2.5,5,7.5,10,12.5],"format":"~r","labelExpr":"datum.value % 5 === 0 ? datum.label : ''","tickSize":{"condition":{"test":"datum.value % 5 !== 0","value":2},"value":4},"labelFontSize":11,"labelPadding":3,"title":null}},
"y":{"field":"y","type":"quantitative","scale":{"domain":[0.8,2.6],"range":[155,38],"nice":false,"zero":false},"axis":{"orient":"left","offset":-761,"zindex":1,"values":[1,1.5,2,2.5],"format":"~r","labelExpr":"datum.value % 1 === 0 ? datum.label : ''","tickSize":{"condition":{"test":"datum.value % 1 !== 0","value":2},"value":4},"labelFontSize":11,"labelPadding":2,"title":null}}
},
"layer":[
{"data":{"values":[{"x":0,"x2":14.9,"y":0.8,"y2":2.6}]},"mark":{"type":"rect","fill":"white","stroke":"black","strokeWidth":1},"encoding":{"x2":{"field":"x2"},"y2":{"field":"y2"}}},
{"data":{"name":"B2M"},"mark":{"type":"point","shape":"triangle-down","filled":false,"color":"#148c14","size":55,"strokeWidth":1.3,"opacity":1}},
{"data":{"name":"B2L"},"mark":{"type":"point","shape":"square","filled":false,"color":"black","size":25,"strokeWidth":1,"opacity":1}},
{"data":{"values":[{"x":12.6,"y":2.32,"t":"(2)"}]},"mark":{"type":"text","align":"center","baseline":"middle","fontSize":17},"encoding":{"text":{"field":"t"}}},
{"data":{"values":[{"x":0.65,"y":0.97,"t":"B = 0.01 T"}]},"mark":{"type":"text","align":"left","baseline":"middle","fontSize":12},"encoding":{"text":{"field":"t"}}}
]
}
],
"resolve":{"scale":{"x":"independent","y":"independent"},"axis":{"x":"independent","y":"independent"}}
}
